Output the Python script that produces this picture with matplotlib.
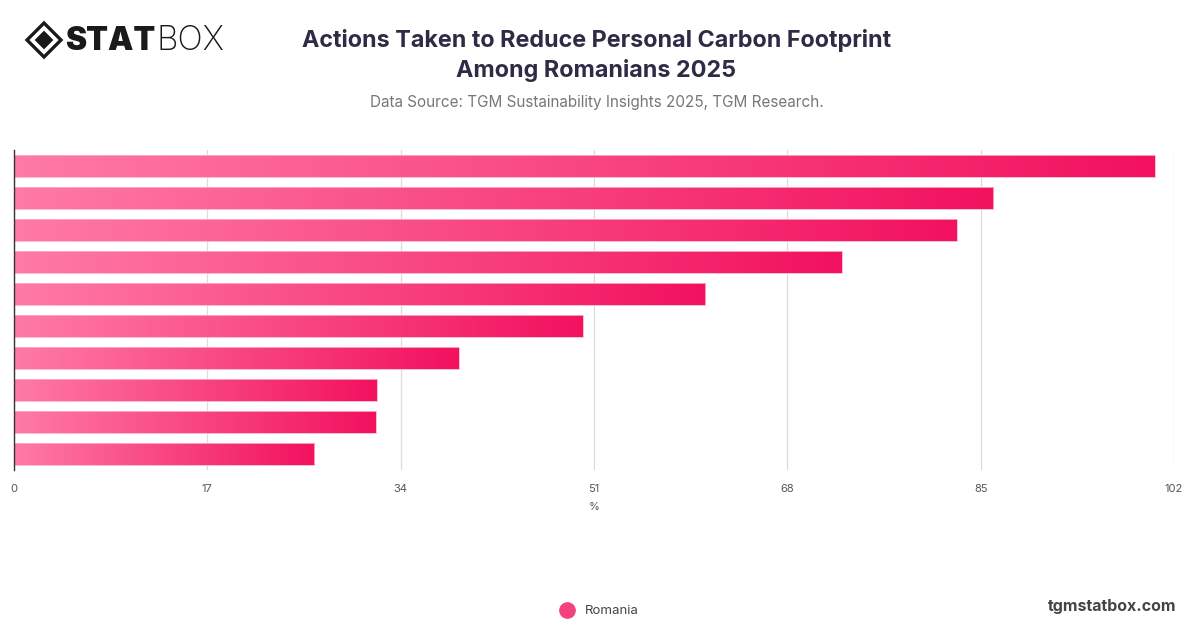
import numpy as np
import matplotlib
matplotlib.use('Agg')
import matplotlib.pyplot as plt
from matplotlib.colors import LinearSegmentedColormap
from matplotlib.patches import Polygon

# values, top bar first (category labels are not shown)
values = [100.3, 86.1, 82.9, 72.8, 60.8, 50.0, 39.1, 31.9, 31.8, 26.4]
ticks = [0, 17, 34, 51, 68, 85, 102]
series_name = 'Romania'

plt.rcParams['font.family'] = ['Inter', 'DejaVu Sans']

fig = plt.figure(figsize=(12, 6.28), dpi=100)
ax = fig.add_axes([14 / 1200, 1 - 470 / 628, 1160 / 1200, 320 / 628])

cmap = LinearSegmentedColormap.from_list('pink', ['#ff7aa6', '#f2125f'])
grad = np.linspace(0, 1, 256).reshape(1, -1)
bar_h = 0.69

bars = ax.barh(range(len(values)), values, height=bar_h, facecolor='none',
               edgecolor='#ffb0cc', linewidth=0.6, zorder=4)
for i, (v, b) in enumerate(zip(values, bars)):
    im = ax.imshow(grad, cmap=cmap, aspect='auto', interpolation='bicubic',
                   extent=[0, v, i + bar_h / 2, i - bar_h / 2], zorder=3)
    im.set_clip_path(b)

ax.set_xlim(0, 102)
ax.set_ylim(9.5, -0.5)
ax.set_xticks(ticks)
ax.set_xticklabels([str(t) for t in ticks], color='#555555', fontsize=8)
ax.set_yticks([])
ax.tick_params(axis='x', length=0, pad=10)
ax.xaxis.grid(True, color='#dddddd', linewidth=0.9, zorder=0)
ax.set_axisbelow(True)
for s in ['top', 'right', 'bottom']:
    ax.spines[s].set_visible(False)
ax.spines['left'].set_color('#333333')
ax.spines['left'].set_linewidth(1)
ax.spines['left'].set_zorder(5)
ax.set_xlabel('%', color='#555555', fontsize=8, labelpad=6)

# title block
fig.text(0.497, 1 - 40 / 628, 'Actions Taken to Reduce Personal Carbon Footprint',
         ha='center', va='center', fontsize=16.8, fontweight='bold', color='#2e2b45')
fig.text(0.497, 1 - 71 / 628, 'Among Romanians 2025',
         ha='center', va='center', fontsize=16.8, fontweight='bold', color='#2e2b45')
fig.text(0.497, 1 - 102 / 628, 'Data Source: TGM Sustainability Insights 2025, TGM Research.',
         ha='center', va='center', fontsize=11, color='#777777')

# logo
cx, cy, r = 44 / 1200, 1 - 40 / 628, 17
fx, fy = r / 1200, r / 628
outer = Polygon([[cx - fx, cy], [cx, cy + fy], [cx + fx, cy], [cx, cy - fy]],
                closed=True, facecolor='none', edgecolor='#1a1a1a', linewidth=2.4,
                transform=fig.transFigure)
inner = Polygon([[cx - fx * 0.55, cy], [cx, cy + fy * 0.55], [cx + fx * 0.55, cy], [cx, cy - fy * 0.55]],
                closed=True, facecolor='#1a1a1a', edgecolor='none', transform=fig.transFigure)
fig.patches.extend([outer, inner])
fig.text(65 / 1200, 1 - 41 / 628, 'STAT', ha='left', va='center', fontsize=23,
         fontweight='black', color='#1a1a1a')
fig.text(156 / 1200, 1 - 41 / 628, 'BOX', ha='left', va='center', fontsize=24,
         fontweight='light', color='#1a1a1a')

# legend
fig.legend(handles=[plt.Line2D([], [], marker='o', linestyle='none', markersize=11,
                               markerfacecolor='#f5417f', markeredgecolor='#f5417f')],
           labels=[series_name], loc='center', bbox_to_anchor=(0.497, 1 - 611 / 628),
           frameon=False, fontsize=9.5, labelcolor='#444444', handletextpad=0.4)

fig.text(1176 / 1200, 1 - 607 / 628, 'tgmstatbox.com', ha='right', va='center',
         fontsize=11.5, fontweight='bold', color='#444444')

fig.savefig('out.png', dpi=100)
